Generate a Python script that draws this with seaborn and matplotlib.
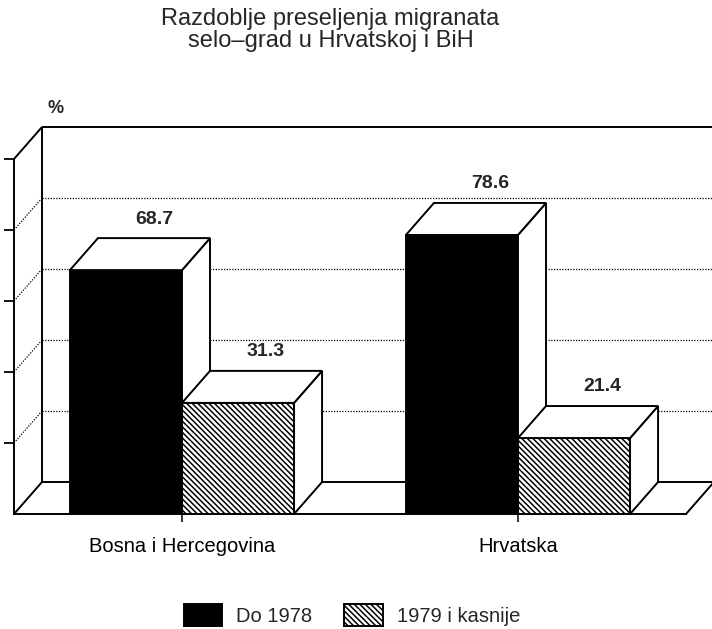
import matplotlib
matplotlib.use("Agg")
import matplotlib.pyplot as plt
import seaborn as sns
import pandas as pd
from matplotlib.patches import Polygon, Patch

# ---- data ----
title_lines = ["Razdoblje preseljenja migranata", "selo–grad u Hrvatskoj i BiH"]
regions = ["Bosna i Hercegovina", "Hrvatska"]
periods = ["Do 1978", "1979 i kasnije"]
do_1978 = [68.7, 78.6]
od_1979 = [31.3, 21.4]
y_ticks = [20, 40, 60, 80, 100]
unit_label = "%"

df = pd.DataFrame({
    "region": regions * 2,
    "period": [periods[0]] * len(regions) + [periods[1]] * len(regions),
    "value": do_1978 + od_1979,
})

sns.set_style("white")
plt.rcParams["font.family"] = ["Liberation Sans", "DejaVu Sans"]
plt.rcParams["hatch.linewidth"] = 1.1

W, H = 712, 629
fig = plt.figure(figsize=(W / 100, H / 100), dpi=100)
x0_px, x1_px, yb_px, yt_px = 14, 686, 514, 159
ax = fig.add_axes([x0_px / W, (H - yb_px) / H, (x1_px - x0_px) / W, (yb_px - yt_px) / H])

LW = 1.4
HATCH = "\\\\\\\\\\\\"
sns.barplot(data=df, x="region", y="value", hue="period", order=regions,
            hue_order=periods, palette=["black", "white"], saturation=1,
            width=0.667, edgecolor="black", linewidth=LW, ax=ax, legend=False)

xlo, xhi = -0.5, 1.5
ax.set_xlim(xlo, xhi)
ax.set_ylim(0, 100)

sx = (x1_px - x0_px) / (xhi - xlo)      # px per x unit
sy = (yb_px - yt_px) / 100.0            # px per y unit
dx = 28 / sx
dy = 32 / sy

# 3D faces on bars
bars = sorted(ax.patches, key=lambda p: p.get_x())
for i, p in enumerate(bars):
    z = 3 + i
    p.set_zorder(z)
    fc = p.get_facecolor()
    if fc[0] > 0.5:
        p.set_hatch(HATCH)
    xl = p.get_x()
    xr = xl + p.get_width()
    h = p.get_height()
    top = Polygon([(xl, h), (xr, h), (xr + dx, h + dy), (xl + dx, h + dy)],
                  closed=True, fc="white", ec="black", lw=LW, zorder=z + 0.5,
                  clip_on=False, joinstyle="miter")
    side = Polygon([(xr, 0), (xr, h), (xr + dx, h + dy), (xr + dx, dy)],
                   closed=True, fc="white", ec="black", lw=LW, zorder=z + 0.5,
                   clip_on=False, joinstyle="miter")
    ax.add_patch(side)
    ax.add_patch(top)

# value labels
for series in (do_1978, od_1979):
    for val in series:
        p = min(bars, key=lambda b: abs(b.get_height() - val))
        cx = p.get_x() + p.get_width() / 2 + dx
        ax.annotate(f"{val:.1f}", xy=(cx, val + dy), xytext=(0, 10.5),
                    textcoords="offset points", ha="center", va="baseline",
                    fontsize=14, fontweight="bold", annotation_clip=False)

# walls and floor
line_kw = dict(color="black", lw=LW, clip_on=False, zorder=1, solid_capstyle="butt")
dot_kw = dict(color="black", lw=0.9, ls=(0, (1, 1.2)), clip_on=False, zorder=1)
ax.plot([xlo + dx, xhi + dx], [100 + dy, 100 + dy], **line_kw)
ax.plot([xlo + dx, xlo + dx], [dy, 100 + dy], **line_kw)
ax.plot([xlo, xlo + dx], [100, 100 + dy], **line_kw)
ax.plot([xlo, xlo + dx], [0, dy], **line_kw)
ax.plot([xlo + dx, xhi + dx], [dy, dy], **line_kw)
ax.plot([xhi, xhi + dx], [0, dy], **line_kw)
for v in y_ticks[:-1]:
    ax.plot([xlo + dx, xhi + dx], [v + dy, v + dy], **dot_kw)
    ax.plot([xlo, xlo + dx], [v, v + dy], **dot_kw)

# axes styling
for s in ("top", "right"):
    ax.spines[s].set_visible(False)
for s in ("left", "bottom"):
    ax.spines[s].set_linewidth(LW)
    ax.spines[s].set_color("black")
ax.set_yticks(y_ticks)
ax.set_yticklabels([])
ax.tick_params(axis="y", left=True, length=7.5, width=1.3, direction="out", color="black")
ax.tick_params(axis="x", bottom=True, length=5.5, width=1.1, direction="out",
               color="black", pad=11, labelsize=14.5, labelcolor="black")
ax.set_xlabel("")
ax.set_ylabel("")
ax.patch.set_alpha(0)

# titles and unit
fig.text(330 / W, 1 - 25 / H, title_lines[0], ha="center", va="baseline", fontsize=17)
fig.text(331 / W, 1 - 47 / H, title_lines[1], ha="center", va="baseline", fontsize=17)
fig.text(56 / W, 1 - 113 / H, unit_label, ha="center", va="baseline",
         fontsize=13, fontweight="bold")

# legend
handles = [Patch(facecolor="black", edgecolor="black", lw=LW),
           Patch(facecolor="white", edgecolor="black", lw=LW, hatch=HATCH)]
fig.legend(handles=handles, labels=periods, loc="center", ncol=2, frameon=False,
           bbox_to_anchor=(352 / W, 1 - 615 / H), fontsize=14.5,
           handlelength=1.9, handleheight=1.3, handletextpad=0.7, columnspacing=1.6)

fig.savefig("out.png", dpi=100)
